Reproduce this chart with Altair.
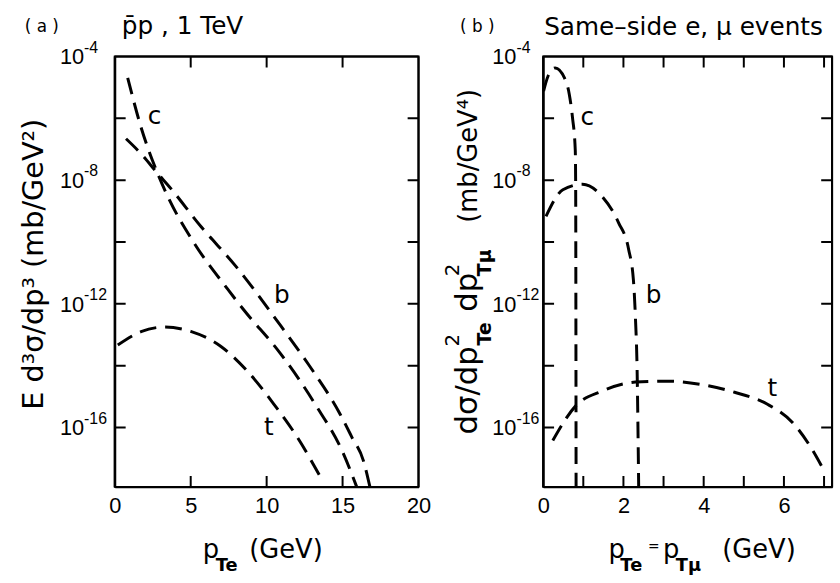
import altair as alt
import pandas as pd

FONT = "DejaVu Sans"
NUMFONT = "Liberation Sans"

# ---------------- data (x, log10 y) ----------------
# panel (a): pbar-p, 1 TeV  -- E d3sigma/dp3 vs p_Te
a_c_pt = [0.85, 1.73, 2.82, 3.49, 5.22, 7.41, 8.5, 10.9, 13.2, 15.06, 15.93]
a_c_exp = [-4.69, -6.29, -7.78, -8.53, -10.03, -11.51, -12.2, -13.6, -15.25, -16.85, -17.92]
a_b_pt = [0.74, 1.72, 2.82, 3.59, 5.66, 7.95, 10.9, 12.77, 14.84, 15.6, 16.37, 16.8]
a_b_exp = [-6.66, -7.14, -7.78, -8.21, -9.49, -10.77, -12.69, -13.97, -15.57, -16.3, -17.07, -17.92]
a_t_pt = [0.2, 1.73, 3.26, 5.0, 6.97, 8.72, 10.47, 12.0, 13.64]
a_t_exp = [-13.33, -12.9, -12.75, -12.89, -13.37, -14.17, -15.24, -16.3, -17.69]

# panel (b): same-side e, mu events -- dsigma/dp2 dp2 vs p_Te = p_Tmu
b_c_pt = [0.01, 0.12, 0.30, 0.53, 0.65, 0.73, 0.80, 0.81, 0.815, 0.82]
b_c_exp = [-5.12, -4.64, -4.37, -4.69, -5.22, -5.97, -7.04, -8.3, -12.0, -17.92]
b_b_pt = [0.07, 0.49, 0.98, 1.47, 1.88, 2.13, 2.25, 2.30, 2.34, 2.38]
b_b_exp = [-9.17, -8.31, -8.13, -8.53, -9.38, -10.24, -11.25, -12.48, -14.08, -17.92]
b_t_pt = [0.24, 0.81, 1.47, 2.30, 3.12, 3.94, 4.77, 5.59, 6.25, 6.66, 7.03]
b_t_exp = [-16.42, -15.3, -14.82, -14.53, -14.5, -14.61, -14.86, -15.25, -15.89, -16.62, -17.47]

# curve labels (x, log10 y)
a_lab_text = ["c", "b", "t"]
a_lab_x = [2.62, 11.0, 10.14]
a_lab_exp = [-5.92, -11.73, -16.0]
b_lab_text = ["c", "b", "t"]
b_lab_x = [1.10, 2.75, 5.71]
b_lab_exp = [-5.97, -11.73, -14.72]

# axes
Y_MIN_EXP, Y_MAX_EXP = -17.92, -4
y_tick_exps = [-6, -8, -10, -12, -14, -16]
y_label_exps = [-4, -8, -12, -16]
y_label_sup = ["-4", "-8", "-12", "-16"]
a_xdom = [0, 20]
a_xlabels = [0, 5, 10, 15, 20]
a_xticks = [5, 10, 15]
b_xdom = [0, 7.2]
b_xlabels = [0, 2, 4, 6]
b_xticks = [1, 2, 3, 4, 5, 6, 7]

W_A, W_B, H = 307, 292, 435
TICK_PX = 11


def lines_df(series, xdom, xticks, W):
    """Curves plus the frame and its inward ticks, each as its own path."""
    rows = []
    for name, xs, es in series:
        for x, e in zip(xs, es):
            rows.append({"id": name, "kind": "curve", "w": 3, "x": x, "y": 10.0 ** e})

    x0, x1 = xdom
    ux = TICK_PX * (x1 - x0) / W
    uy = TICK_PX * (Y_MAX_EXP - Y_MIN_EXP) / H

    def add(pid, xa, ea, xb, eb):
        rows.append({"id": pid, "kind": "frame", "w": 2, "x": xa, "y": 10.0 ** ea})
        rows.append({"id": pid, "kind": "frame", "w": 2, "x": xb, "y": 10.0 ** eb})

    add("f_top", x0, Y_MAX_EXP, x1, Y_MAX_EXP)
    add("f_bot", x0, Y_MIN_EXP, x1, Y_MIN_EXP)
    add("f_left", x0, Y_MAX_EXP, x0, Y_MIN_EXP)
    add("f_right", x1, Y_MAX_EXP, x1, Y_MIN_EXP)
    for e in y_tick_exps:
        add(f"tl{e}", x0, e, x0 + ux, e)
        add(f"tr{e}", x1 - ux, e, x1, e)
    for v in xticks:
        add(f"tt{v}", v, Y_MAX_EXP, v, Y_MAX_EXP - uy)
        add(f"tb{v}", v, Y_MIN_EXP, v, Y_MIN_EXP + uy)
    return pd.DataFrame(rows)


def txt(text, x, y, size, align="left", baseline="alphabetic", angle=0,
        weight="normal", font=FONT, dy=0):
    return alt.Chart(pd.DataFrame({"t": [text]})).mark_text(
        font=font, fontSize=size, align=align, baseline=baseline, angle=angle,
        fontWeight=weight, color="black", dy=dy
    ).encode(text="t:N", x=alt.value(x), y=alt.value(y))


def panel(series, labs, xdom, xlabels, xticks, W, lab10_x, deco):
    xs = alt.Scale(domain=xdom, nice=False, zero=False)
    ys = alt.Scale(type="log", domain=[10.0 ** Y_MIN_EXP, 10.0 ** Y_MAX_EXP], nice=False)
    xaxis = alt.Axis(values=xlabels, ticks=False, domain=True, domainColor="black",
                     domainWidth=2, grid=False,
                     labelPadding=9, labelFontSize=22, labelFont=NUMFONT,
                     labelColor="black", labelFlush=False, labelOverlap=False,
                     title=None)
    yaxis = alt.Axis(domain=True, domainColor="black", domainWidth=2, labels=False,
                     ticks=False, grid=False, title=None)

    def X(f):
        return alt.X(f, type="quantitative", scale=xs, axis=xaxis)

    def Y(f):
        return alt.Y(f, type="quantitative", scale=ys, axis=yaxis)

    lines = alt.Chart(lines_df(series, xdom, xticks, W)).mark_line(
        color="black", interpolate="monotone"
    ).encode(
        x=X("x"), y=Y("y"), detail="id:N",
        strokeDash=alt.StrokeDash("kind:N", scale=alt.Scale(domain=["curve", "frame"],
                                                            range=[[17, 9], [1, 0]]), legend=None),
        strokeWidth=alt.StrokeWidth("w:Q", scale=None),
    )

    lt, lx, le = labs
    lab_df = pd.DataFrame({"t": lt, "x": lx, "y": [10.0 ** e for e in le]})
    labels = alt.Chart(lab_df).mark_text(
        font=FONT, fontSize=25, color="black", align="center", baseline="middle"
    ).encode(x=X("x"), y=Y("y"), text="t:N")

    yl = pd.DataFrame({"y": [10.0 ** e for e in y_label_exps], "ten": ["10"] * 4, "sup": y_label_sup})
    ten = alt.Chart(yl).mark_text(font=NUMFONT, fontSize=22, align="right", baseline="middle",
                                  color="black", dy=1).encode(
        y=Y("y"), x=alt.value(lab10_x), text="ten:N")
    sup = alt.Chart(yl).mark_text(font=NUMFONT, fontSize=16, align="left", baseline="middle",
                                  color="black", dy=-9).encode(
        y=Y("y"), x=alt.value(lab10_x), text="sup:N")

    layers = [lines, labels, ten, sup] + deco
    return alt.layer(*layers).properties(width=W, height=H)


deco_a = [
    txt("( a )", -91, -25, 17),
    txt("p\u0304p ,  1 TeV", 7, -23, 25),
    txt("p", 89, 507, 26),
    txt("Te", 102, 520, 18, weight="bold"),
    txt("(GeV)", 136, 507, 26),
    txt("E d\u00b3\u03c3/dp\u00b3  (mb/GeV\u00b2)", -73, 210, 29, align="center", angle=270),
]

deco_b = [
    txt("( b )", -84, -25, 17),
    txt("Same\u2013side  e, \u03bc  events", 1, -22, 25),
    txt("p", 66, 507, 26),
    txt("Te", 78, 520, 18, weight="bold"),
    txt("=", 106, 500, 14),
    txt("p", 121, 507, 26),
    txt("T\u03bc", 134, 520, 18, weight="bold"),
    txt("(GeV)", 181, 507, 26),
    txt("d\u03c3/dp", -67, 382, 31, angle=270),
    txt("2", -85, 293, 20, angle=270),
    txt("Te", -53, 292, 19, angle=270, weight="bold"),
    txt("dp", -67, 258, 31, angle=270),
    txt("2", -85, 222, 20, angle=270),
    txt("T\u03bc", -53, 222, 19, angle=270, weight="bold"),
    txt("(mb/GeV\u2074)", -67, 168, 26, angle=270),
]

pa = panel([("c", a_c_pt, a_c_exp), ("b", a_b_pt, a_b_exp), ("t", a_t_pt, a_t_exp)],
           (a_lab_text, a_lab_x, a_lab_exp), a_xdom, a_xlabels, a_xticks, W_A, -31, deco_a)
pb = panel([("c", b_c_pt, b_c_exp), ("b", b_b_pt, b_b_exp), ("t", b_t_pt, b_t_exp)],
           (b_lab_text, b_lab_x, b_lab_exp), b_xdom, b_xlabels, b_xticks, W_B, -27, deco_b)

chart = alt.hconcat(pa, pb, spacing=126, bounds="flush").properties(
    padding={"left": 18, "top": 10, "right": 0, "bottom": 0},
    background="white",
).configure_view(stroke="black", strokeWidth=2)

chart.save("out.html", embed_options={"renderer": "svg", "actions": False})
